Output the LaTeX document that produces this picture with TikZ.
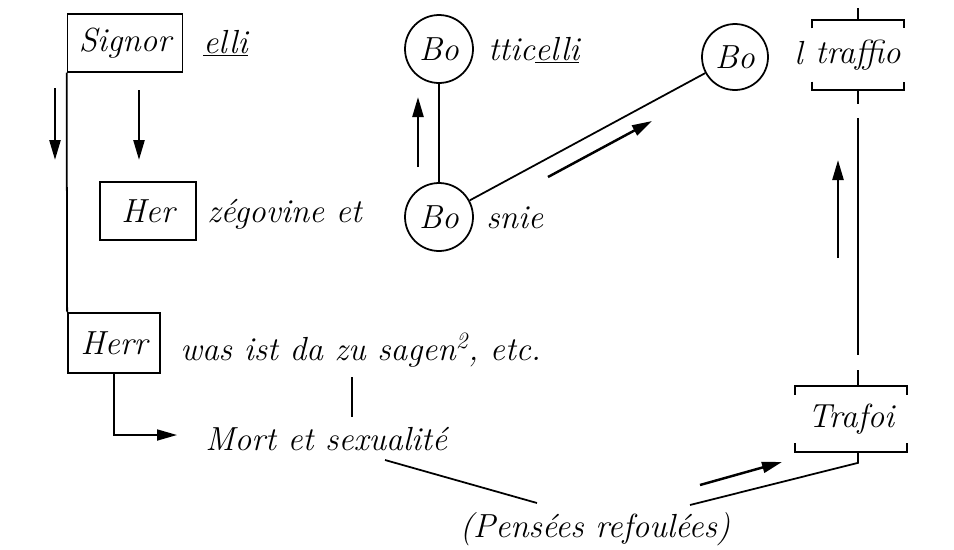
\documentclass[tikz,border=0pt]{standalone}
\usetikzlibrary{arrows.meta,calc}

\tikzset{
  every node/.style={font=\fontsize{19}{22}\selectfont\itshape},
  wordbox/.style={draw,rectangle,line width=1pt,minimum height=1.15cm,inner sep=2pt},
  bocircle/.style={draw,circle,line width=1pt,minimum size=1.36cm,inner sep=0pt},
  plain/.style={inner sep=0pt},
  conn/.style={line width=1pt},
  hint/.style={line width=1.4pt,-{Triangle[length=4mm,width=2.2mm]}}
}

% brackets above and below a node
\newcommand\bracketbox[1]{%
  \draw [conn] ([yshift=-5pt]#1.north west) -- (#1.north west) -- (#1.north east) -- ([yshift=-5pt]#1.north east);
  \draw [conn] ([yshift=5pt]#1.south west) -- (#1.south west) -- (#1.south east) -- ([yshift=5pt]#1.south east);
}

\begin{document}
\begin{tikzpicture}[x=0.02cm,y=-0.02cm]

  \useasboundingbox (0,0) rectangle (954,549);

  % left column: Signorelli / Herzegovina / Herr
  \node [wordbox,minimum width=2.3cm] (signor) at (125,43) {Signor};
  \node [plain,anchor=base west] (elli) at (203,53) {\underline{elli}};
  \node [wordbox,minimum width=1.92cm] (her) at (148,211) {Her};
  \node [plain,anchor=base west] (zego) at (207,222) {zégovine et};
  \node [wordbox,minimum width=1.84cm,minimum height=1.2cm] (herr) at (114,343) {Herr};
  \node [plain,anchor=base west] (sagen) at (180,360) {was ist da zu sagen\textsuperscript{2}, etc.};
  \node [plain,anchor=base west] (mort) at (205,450) {Mort et sexualité};
  \node [plain,anchor=base] (pensees) at (595,537) {(Pensées refoulées)};

  % middle: Botticelli / Bosnie
  \node [bocircle] (botti) at (439,49) {Bo};
  \node [plain,anchor=base west] (tticelli) at (488,60) {ttic\underline{elli}};
  \node [bocircle] (bosnie) at (439,217) {Bo};
  \node [plain,anchor=base west] (snie) at (486,228) {snie};

  % right: Boltraffio / Trafoi
  \node [bocircle,minimum size=1.32cm] (boltr) at (735,57) {Bo};
  \node [plain,anchor=base west] (ell) at (794,64) {l};
  \node [inner sep=0pt,minimum width=1.84cm,minimum height=1.4cm] (traffio) at (858,55) {traffio};
  \node [inner sep=0pt,minimum width=2.24cm,minimum height=1.3cm] (trafoi) at (851,419) {Trafoi};
  \bracketbox{traffio}
  \bracketbox{trafoi}

  % connections
  \draw [conn] (signor.south west) -- (herr.north west);
  \draw [conn] ($(signor.south west)!.43!(signor.south east)$) -- ($(signor.south west)!.43!(signor.south east)$ |- her.north);
  \draw [conn,-{Triangle[length=4mm,width=2.2mm]}] (herr.south) |- ($(mort.base west)+(-28,-15)$);
  \draw [conn] ($(sagen.base west)+(172,17)$) -- ($(mort.base west)+(147,-33)$);
  \draw [conn] (botti) -- (bosnie);
  \draw [conn] (bosnie) -- (boltr);
  \draw [conn] (traffio.north) -- ++(0,-12);
  \draw [conn] (traffio.south) -- ++(0,14);
  \draw [conn] ($(traffio.south)+(0,28)$) -- ($(traffio.south |- trafoi.north)+(0,-31)$);
  \draw [conn] (traffio.south |- trafoi.north) -- ++(0,-16);
  \draw [conn] ($(mort.base west)+(180,10)$) -- ($(pensees.base)+(-58,-34)$);
  \draw [conn] (traffio.south |- trafoi.south) -- ++(0,11) -- ($(pensees.base)+(95,-32)$);

  % direction arrows
  \draw [hint] (55,88) -- (55,160);
  \draw [hint] (139,90) -- (139,160);
  \draw [hint] (418,167) -- (418,97);
  \draw [hint] (548,177) -- (652,121);
  \draw [hint] (838,258) -- (838,160);
  \draw [hint] (700,485) -- (782,462);

\end{tikzpicture}
\end{document}
